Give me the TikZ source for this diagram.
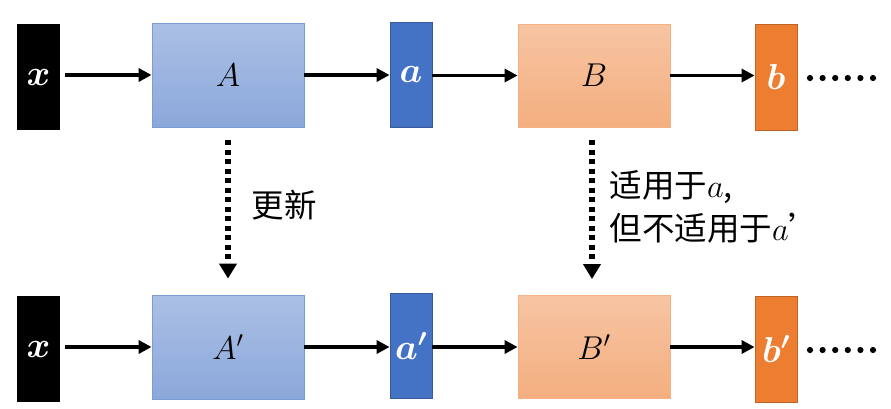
\RequirePackage{fix-cm}
\documentclass[tikz,border=0pt]{standalone}
\usepackage{fontspec}
\newfontfamily\cjk{Noto Sans CJK SC}
\usepackage{bm}
\usetikzlibrary{arrows.meta}

\definecolor{blueA}{HTML}{4472C4}
\definecolor{orangeB}{HTML}{ED7D31}

\begin{document}
\begin{tikzpicture}[x=1pt,y=-1pt,
  box/.style={inner sep=0pt,line width=0.8pt,font=\fontsize{33}{36}\selectfont},
  slim/.style={box,font=\fontsize{36}{40}\selectfont\boldmath,text=white},
  inbox/.style={slim,fill=black,minimum width=43pt,minimum height=106pt},
  bigA/.style={box,draw=blueA!70,top color=blueA!45,bottom color=blueA!62,minimum width=152pt,minimum height=104pt},
  smallA/.style={slim,draw=blueA!80!black,fill=blueA,minimum width=42pt,minimum height=105pt},
  bigB/.style={box,draw=orangeB!60,top color=orangeB!45,bottom color=orangeB!62,minimum width=152pt,minimum height=103pt},
  smallB/.style={slim,draw=orangeB!80!black,fill=orangeB,minimum width=42pt,minimum height=106pt},
  flow/.style={line width=3.2pt,-{Triangle[length=13pt,width=13pt]}},
  upd/.style={line width=5.5pt,dash pattern=on 5pt off 4.5pt,-{Triangle[length=15pt,width=17pt]}},
  note/.style={font=\fontsize{32.5}{43}\selectfont\cjk,align=left}
]
\useasboundingbox (0,0) rectangle (891,408);

% first row
\node[inbox] (x1) at (38.5,77) {$x$};
\node[bigA] (A1) at (228,75) {$A$};
\node[smallA] (a1) at (411,74.5) {$a$};
\node[bigB] (B1) at (594,75.5) {$B$};
\node[smallB] (b1) at (776,77) {$b$};

% second row
\node[inbox] (x2) at (38.5,349) {$x$};
\node[bigA] (A2) at (228,347) {$A'$};
\node[smallA] (a2) at (411,346) {$a'$};
\node[bigB] (B2) at (594,347) {$B'$};
\node[smallB] (b2) at (776,349) {$b'$};

\draw[flow,shorten <=5pt] (x1.east |- A1) -- (A1.west);
\draw[flow] (A1.east) -- (A1.east -| a1.west);
\draw[flow] (a1.east |- B1) -- (B1.west);
\draw[flow] (B1.east) -- (B1.east -| b1.west);

\draw[flow,shorten <=5pt] (x2.east |- A2) -- (A2.west);
\draw[flow] (A2.east) -- (A2.east -| a2.west);
\draw[flow] (a2.east |- B2) -- (B2.west);
\draw[flow] (B2.east) -- (B2.east -| b2.west);

% dots after b
\foreach \i in {0,...,5} {
  \fill (810+12.6*\i,78) circle (3.1pt);
  \fill (810+12.6*\i,350) circle (3.1pt);
}

% update arrows
\draw[upd,shorten <=13pt,shorten >=16pt] (A1.south) -- (A2.north);
\draw[upd,shorten <=13pt,shorten >=16pt] ([xshift=-2pt]B1.south) -- ([xshift=-2pt]B2.north);

\node[note,anchor=west] (n1) at (248,205) {更新};
\node[note,anchor=west] (n2) at (606,207) {适用于$a$,\\但不适用于$a$’};
\end{tikzpicture}
\end{document}
